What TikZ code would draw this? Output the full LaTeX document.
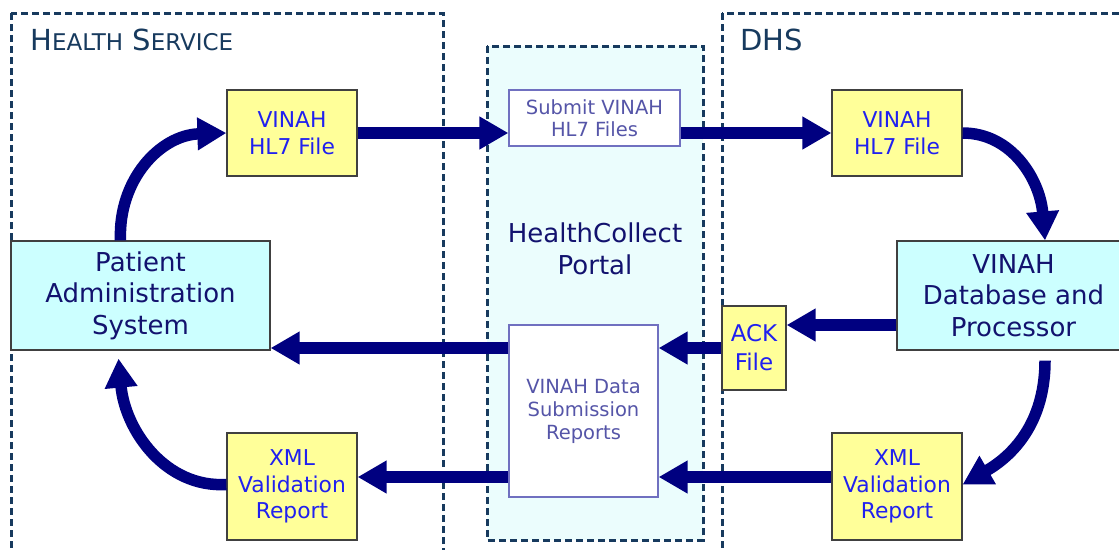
\documentclass[tikz,border=0pt]{standalone}
\usepackage{fontspec}
\setmainfont{DejaVu Sans}
\usetikzlibrary{arrows.meta,calc}
\definecolor{arrowc}{HTML}{000080}
\definecolor{regionc}{HTML}{173A5E}
\definecolor{yfill}{HTML}{FFFF99}
\definecolor{cfill}{HTML}{CCFFFF}
\definecolor{pfill}{HTML}{EBFDFD}
\definecolor{ytext}{HTML}{2020F0}
\definecolor{ctext}{HTML}{12126E}
\definecolor{wtext}{HTML}{5555A8}
\definecolor{wborder}{HTML}{7070C0}
\definecolor{bborder}{HTML}{404040}
\tikzset{
  region/.style={draw=regionc, line width=3pt, dash pattern=on 7pt off 4pt},
  titletext/.style={text=regionc, anchor=base west, inner sep=0pt, font=\fontsize{29}{32}\selectfont},
  ybox/.style={draw=bborder, line width=1.2pt, fill=yfill, text=ytext, align=center, inner sep=0pt,
    font=\fontsize{21.8}{26.5}\selectfont},
  cbox/.style={draw=bborder, line width=1.2pt, fill=cfill, text=ctext, align=center, inner sep=0pt,
    font=\fontsize{26}{31.5}\selectfont},
  wbox/.style={draw=wborder, line width=1.2pt, fill=white, text=wtext, align=center, inner sep=0pt,
    font=\fontsize{19.5}{23}\selectfont},
  arr/.style={draw=arrowc, line width=11.5pt, -{Triangle[length=29pt,width=31pt]}},
}
\begin{document}
\begin{tikzpicture}[x=1pt,y=-1pt]
\useasboundingbox (0,0) rectangle (1119,549);
\clip (0,0) rectangle (1119,549);
\fill[white] (0,0) rectangle (1119,549);

% regions
\draw[region] (11,13) rectangle (443,552);
\draw[region, fill=pfill] (487,46) rectangle (703,540);
\draw[region] (722,13) rectangle (1135,552);

\node[titletext] (t1) at (30,50) {H{\fontsize{23}{26}\selectfont EALTH} S{\fontsize{23}{26}\selectfont ERVICE}};
\node[titletext] (t2) at (740,50) {DHS};

% nodes
\node[ybox, minimum width=130pt, minimum height=86pt] (vl) at (292,133) {VINAH\\HL7 File};
\node[wbox, minimum width=171pt, minimum height=56pt, font=\fontsize{19.5}{22}\selectfont] (sub) at (594.5,118) {Submit VINAH\\HL7 Files};
\node[ybox, minimum width=130pt, minimum height=86pt] (vr) at (897,133) {VINAH\\HL7 File};

\node[cbox, minimum width=259pt, minimum height=109pt] (pas) at (140.5,295.5) {Patient\\Administration\\System};
\node[text=ctext, align=center, inner sep=0pt, font=\fontsize{26}{32}\selectfont] (portal) at (595,249) {HealthCollect\\Portal};
\node[cbox, minimum width=233pt, minimum height=109pt] (db) at (1013.5,295.5) {VINAH\\Database and\\Processor};

\node[ybox, minimum width=64pt, minimum height=84pt, font=\fontsize{23}{29}\selectfont] (ack) at (754,348) {ACK\\File};
\node[wbox, minimum width=149pt, minimum height=172pt] (rep) at (583.5,411) {VINAH Data\\Submission\\Reports};

\node[ybox, minimum width=130pt, minimum height=107pt] (xl) at (292,486.5) {XML\\Validation\\Report};
\node[ybox, minimum width=130pt, minimum height=107pt] (xr) at (897,486.5) {XML\\Validation\\Report};

% straight connectors
\draw[arr] (vl.east) -- (vl.east -| sub.west);
\draw[arr] (sub.east |- vr.west) -- (vr.west);
\draw[arr] ([yshift=23pt]ack.east -| db.west) -- ([yshift=23pt]ack.east);
\draw[arr] (ack.west) -- (ack.west -| rep.east);
\draw[arr] (ack.west -| rep.west) -- (ack.west -| pas.east);
\draw[arr] ([yshift=9.5pt]xr.west) -- ([yshift=9.5pt]xr.west -| rep.east);
\draw[arr] ([yshift=9.5pt]xl.east -| rep.west) -- ([yshift=9.5pt]xl.east);

% curved connectors
\draw[arr] (vr.east) .. controls (1012,133) and (1040,180) .. ([xshift=31.5pt]db.north);
\draw[arr] ([xshift=31.5pt,yshift=-10pt]db.south) .. controls (1045,430) and (1005,460) .. ([yshift=2pt]xr.east);
\draw[arr] ([yshift=2pt]xl.west) .. controls (165,488) and (125,430) .. ([xshift=-22pt,yshift=-8pt]pas.south);
\draw[arr] ([xshift=-20pt]pas.north) .. controls (118,180) and (160,135) .. (vl.west);
\end{tikzpicture}
\end{document}
